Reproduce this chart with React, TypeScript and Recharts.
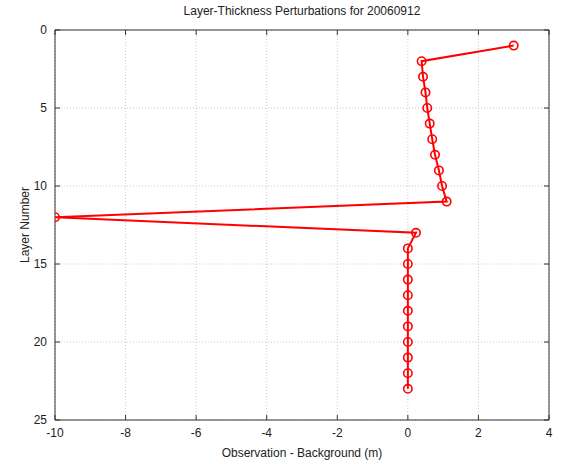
import React from 'react';
import { ScatterChart, Scatter, XAxis, YAxis, CartesianGrid } from 'recharts';

const layers = [1, 2, 3, 4, 5, 6, 7, 8, 9, 10, 11, 12, 13, 14, 15, 16, 17, 18, 19, 20, 21, 22, 23];
const perturbations = [3.0, 0.39, 0.43, 0.5, 0.55, 0.62, 0.69, 0.77, 0.88, 0.97, 1.1, -10, 0.23, 0.0, 0.0, 0.0, 0.0, 0.0, 0.0, 0.0, 0.0, 0.0, 0.0];
const xTicks = [-10, -8, -6, -4, -2, 0, 2, 4];
const yTicks = [0, 5, 10, 15, 20, 25];

const data = layers.map((l, i) => ({ layer: l, value: perturbations[i] }));

const FONT = '"Liberation Sans", Arial, sans-serif';
const TM = 8; // tick margin
const TL = 5; // inward tick length

const BottomTick = (p: any) => (
  <g>
    <line x1={p.x} x2={p.x} y1={p.y - TM} y2={p.y - TM - TL} stroke="#333" strokeWidth={1} />
    <text x={p.x} y={p.y} dy="0.71em" textAnchor="middle" fontSize={12} fill="#222" fontFamily={FONT}>
      {p.payload.value}
    </text>
  </g>
);
const LeftTick = (p: any) => (
  <g>
    <line x1={p.x + TM} x2={p.x + TM + TL} y1={p.y} y2={p.y} stroke="#333" strokeWidth={1} />
    <text x={p.x} y={p.y} dy="0.35em" textAnchor="end" fontSize={12} fill="#222" fontFamily={FONT}>
      {p.payload.value}
    </text>
  </g>
);
const TopTick = (p: any) => (
  <line x1={p.x} x2={p.x} y1={p.y + TM} y2={p.y + TM + TL} stroke="#333" strokeWidth={1} />
);
const RightTick = (p: any) => (
  <line x1={p.x - TM} x2={p.x - TM - TL} y1={p.y} y2={p.y} stroke="#333" strokeWidth={1} />
);

const Marker = (p: any) => (
  <circle cx={p.cx} cy={p.cy} r={4.2} fill="none" stroke="#ff0000" strokeWidth={1.6} />
);
const NoMarker = () => <g />;

export default function App() {
  return (
    <div style={{ position: 'absolute', left: 0, top: 0, width: 563, height: 464, background: '#fff' }}>
      <div
        style={{
          position: 'absolute',
          left: 55,
          width: 494,
          top: 4,
          textAlign: 'center',
          fontFamily: FONT,
          fontSize: 12,
          color: '#222',
        }}
      >
        Layer-Thickness Perturbations for 20060912
      </div>
      <ScatterChart width={563} height={464} margin={{ top: 29, right: 13, bottom: 4, left: 10 }}>
        <CartesianGrid xAxisId="x" yAxisId="y" stroke="#c8c8c8" strokeDasharray="1 2" />
        <XAxis
          xAxisId="x"
          type="number"
          dataKey="value"
          domain={[-10, 4]}
          ticks={xTicks}
          allowDataOverflow
          orientation="bottom"
          height={40}
          tickSize={0}
          tickMargin={TM}
          tick={<BottomTick />}
          axisLine={{ stroke: '#333' }}
          tickLine={false}
          label={{
            value: 'Observation - Background (m)',
            position: 'insideBottom',
            offset: 3,
            style: { fontSize: 12, fill: '#222', fontFamily: FONT },
          }}
        />
        <XAxis
          xAxisId="top"
          type="number"
          dataKey="value"
          domain={[-10, 4]}
          ticks={xTicks}
          allowDataOverflow
          orientation="top"
          height={1}
          tickSize={0}
          tickMargin={TM}
          tick={<TopTick />}
          axisLine={{ stroke: '#333' }}
          tickLine={false}
        />
        <YAxis
          yAxisId="y"
          type="number"
          dataKey="layer"
          domain={[0, 25]}
          ticks={yTicks}
          reversed
          allowDataOverflow
          orientation="left"
          width={45}
          tickSize={0}
          tickMargin={TM}
          tick={<LeftTick />}
          axisLine={{ stroke: '#333' }}
          tickLine={false}
          label={{
            value: 'Layer Number',
            angle: -90,
            position: 'insideLeft',
            offset: 15,
            style: { textAnchor: 'middle', fontSize: 12, fill: '#222', fontFamily: FONT },
          }}
        />
        <YAxis
          yAxisId="right"
          type="number"
          dataKey="layer"
          domain={[0, 25]}
          ticks={yTicks}
          reversed
          allowDataOverflow
          orientation="right"
          width={1}
          tickSize={0}
          tickMargin={TM}
          tick={<RightTick />}
          axisLine={{ stroke: '#333' }}
          tickLine={false}
        />
        <Scatter
          xAxisId="top"
          yAxisId="right"
          data={data}
          shape={<NoMarker />}
          isAnimationActive={false}
        />
        <Scatter
          xAxisId="x"
          yAxisId="y"
          data={data}
          line={{ stroke: '#ff0000', strokeWidth: 2 }}
          shape={<Marker />}
          isAnimationActive={false}
        />
      </ScatterChart>
    </div>
  );
}
